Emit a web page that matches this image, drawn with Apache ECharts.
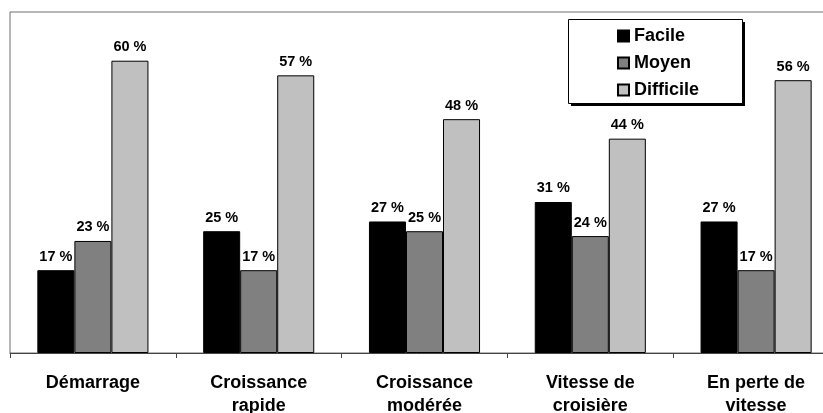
<!DOCTYPE html>
<html>
<head>
<meta charset="utf-8">
<script src="https://cdn.jsdelivr.net/npm/echarts@6/dist/echarts.min.js"></script>
<style>
  html, body { margin: 0; padding: 0; background: #fff; overflow: hidden; }
  #chart { width: 823px; height: 413px; }
</style>
</head>
<body>
<div id="chart"></div>
<script>
// Stages of the business life cycle
const categories = ['Démarrage', 'Croissance\nrapide', 'Croissance\nmodérée', 'Vitesse de\ncroisière', 'En perte de\nvitesse'];
const seriesNames = ['Facile', 'Moyen', 'Difficile'];
const facile = [17, 25, 27, 31, 27];
const moyen = [23, 17, 25, 24, 17];
const difficile = [60, 57, 48, 44, 56];
const colors = ['#000000', '#808080', '#c0c0c0'];

const FONT = "'Liberation Sans', Arial, sans-serif";

function barSeries(name, data, color) {
  return {
    name: name,
    type: 'bar',
    data: data,
    barGap: '0%',
    barCategoryGap: '33%',
    itemStyle: { color: color, borderColor: '#000', borderWidth: 1 },
    label: {
      show: true,
      position: 'top',
      distance: 6,
      formatter: p => p.value + ' %',
      color: '#000',
      fontFamily: FONT,
      fontWeight: 'bold',
      fontSize: 14.5
    }
  };
}

const chart = echarts.init(document.getElementById('chart'));
chart.setOption({
  animation: false,
  backgroundColor: '#fff',
  // the plot area runs past the right edge of the canvas
  grid: {
    show: true,
    left: 10,
    top: 12,
    bottom: 60,
    width: 829,
    outerBoundsMode: 'none',
    containLabel: false,
    borderColor: '#6e6e6e',
    borderWidth: 1,
    backgroundColor: 'transparent'
  },
  // legend frame with its drop shadow
  graphic: [
    {
      type: 'rect',
      shape: { x: 571, y: 22, width: 174, height: 84 },
      style: { fill: '#000' },
      z: 10
    },
    {
      type: 'rect',
      shape: { x: 568.5, y: 19.5, width: 174, height: 84 },
      style: { fill: '#fff', stroke: '#000', lineWidth: 1 },
      z: 11
    }
  ],
  legend: {
    data: seriesNames,
    orient: 'vertical',
    left: 568,
    top: 19,
    z: 20,
    padding: [7, 40, 3, 49],
    itemGap: 7,
    itemWidth: 11,
    itemHeight: 11,
    icon: 'rect',
    textStyle: {
      fontFamily: FONT,
      fontWeight: 'bold',
      fontSize: 18,
      lineHeight: 20,
      color: '#000'
    }
  },
  xAxis: {
    type: 'category',
    data: categories,
    axisLine: { lineStyle: { color: '#444', width: 1 } },
    axisTick: { show: true, length: 5, lineStyle: { color: '#444' } },
    axisLabel: {
      margin: 19,
      fontFamily: FONT,
      fontWeight: 'bold',
      fontSize: 18,
      lineHeight: 23,
      color: '#000',
      interval: 0
    }
  },
  yAxis: {
    type: 'value',
    min: 0,
    max: 70,
    show: false,
    splitLine: { show: false }
  },
  series: [
    barSeries(seriesNames[0], facile, colors[0]),
    barSeries(seriesNames[1], moyen, colors[1]),
    barSeries(seriesNames[2], difficile, colors[2])
  ]
});
</script>
</body>
</html>
